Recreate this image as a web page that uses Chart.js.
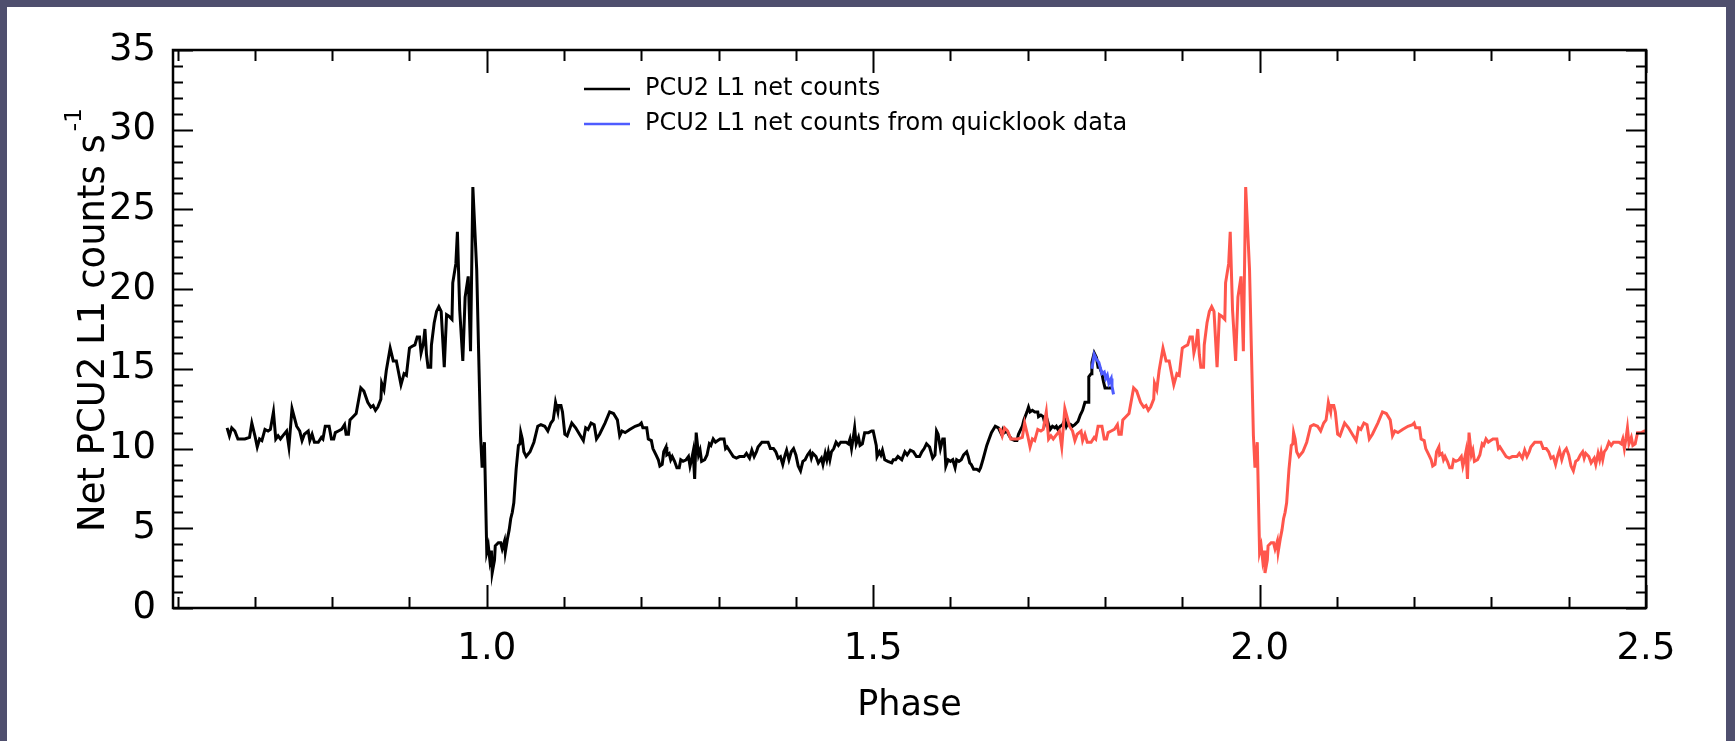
<!DOCTYPE html>
<html>
<head>
<meta charset="utf-8">
<script src="https://cdn.jsdelivr.net/npm/chart.js@4.4.1/dist/chart.umd.min.js"></script>
<style>
  html, body { margin: 0; padding: 0; }
  body { width: 1735px; height: 741px; background: #4f4f6e; position: relative; overflow: hidden; }
  #panel { position: absolute; left: 7px; top: 7px; width: 1719px; height: 734px; background: #fff; }
  canvas { display: block; }
</style>
</head>
<body>
<div id="panel"><canvas id="lc" width="1719" height="734"></canvas></div>
<script>
// light curve, PCU2 layer 1 net counts
const phase = [
  0.664, 0.667, 0.670, 0.674, 0.678, 0.687, 0.693, 0.696, 0.700, 0.703, 0.706, 0.709, 0.713, 0.717, 0.720,
  0.724, 0.727, 0.730, 0.733, 0.736, 0.741, 0.744, 0.748, 0.754, 0.758, 0.761, 0.764, 0.769, 0.771, 0.774,
  0.777, 0.782, 0.786, 0.788, 0.791, 0.796, 0.799, 0.802, 0.804, 0.808, 0.812, 0.816, 0.818, 0.821, 0.823,
  0.827, 0.831, 0.837, 0.841, 0.846, 0.850, 0.853, 0.856, 0.859, 0.863, 0.864, 0.867, 0.870, 0.875, 0.879,
  0.883, 0.889, 0.893, 0.896, 0.900, 0.903, 0.907, 0.910, 0.913, 0.915, 0.918, 0.920, 0.922, 0.924, 0.9275,
  0.9284, 0.932, 0.935, 0.938, 0.941, 0.945, 0.948, 0.951, 0.955, 0.956, 0.960, 0.962, 0.965, 0.969, 0.972,
  0.976, 0.979, 0.982, 0.987, 0.992, 0.994, 0.997, 1.000, 1.002, 1.004, 1.006, 1.007, 1.010, 1.011, 1.015,
  1.018, 1.020, 1.023, 1.024, 1.027, 1.029, 1.031, 1.033, 1.035, 1.038, 1.041, 1.043, 1.044, 1.046, 1.048,
  1.051, 1.056, 1.061, 1.066, 1.070, 1.075, 1.079, 1.083, 1.086, 1.088, 1.089, 1.092, 1.093, 1.096, 1.098,
  1.101, 1.104, 1.110, 1.115, 1.120, 1.125, 1.128, 1.131, 1.135, 1.139, 1.142, 1.146, 1.153, 1.159, 1.164,
  1.169, 1.172, 1.175, 1.179, 1.185, 1.192, 1.198, 1.200, 1.202, 1.207, 1.209, 1.213, 1.215, 1.219, 1.222,
  1.224, 1.227, 1.229, 1.232, 1.233, 1.236, 1.238, 1.240, 1.243, 1.246, 1.249, 1.251, 1.254, 1.258, 1.261,
  1.263, 1.265, 1.267, 1.269, 1.271, 1.274, 1.276, 1.278, 1.282, 1.285, 1.288, 1.290, 1.293, 1.296, 1.299,
  1.302, 1.307, 1.309, 1.311, 1.315, 1.319, 1.323, 1.327, 1.330, 1.333, 1.336, 1.340, 1.343, 1.346, 1.349,
  1.351, 1.356, 1.360, 1.364, 1.367, 1.371, 1.374, 1.377, 1.380, 1.383, 1.386, 1.388, 1.391, 1.394, 1.397,
  1.400, 1.403, 1.406, 1.409, 1.412, 1.415, 1.418, 1.420, 1.422, 1.426, 1.429, 1.433, 1.435, 1.438, 1.440,
  1.442, 1.444, 1.446, 1.449, 1.452, 1.455, 1.458, 1.461, 1.465, 1.468, 1.470, 1.472, 1.474, 1.476, 1.478,
  1.481, 1.483, 1.486, 1.489, 1.494, 1.498, 1.500, 1.504, 1.505, 1.508, 1.510, 1.512, 1.515, 1.519, 1.524,
  1.526, 1.529, 1.532, 1.537, 1.541, 1.544, 1.548, 1.552, 1.556, 1.560, 1.563, 1.566, 1.569, 1.573, 1.577,
  1.580, 1.582, 1.584, 1.587, 1.590, 1.592, 1.594, 1.597, 1.600, 1.603, 1.606, 1.608, 1.611, 1.614, 1.617,
  1.621, 1.623, 1.625, 1.627, 1.630, 1.634, 1.637, 1.639, 1.642, 1.647, 1.650, 1.653, 1.658, 1.662, 1.664,
  1.666, 1.668, 1.670, 1.673, 1.676, 1.679, 1.683, 1.686, 1.688, 1.691, 1.693, 1.695, 1.699, 1.701, 1.703,
  1.706, 1.709, 1.713, 1.714, 1.717, 1.720, 1.722, 1.724, 1.727, 1.729, 1.732, 1.735, 1.737, 1.739, 1.742,
  1.745, 1.748, 1.750, 1.752, 1.756, 1.758, 1.761, 1.765, 1.768, 1.771, 1.774, 1.778, 1.779, 1.782, 1.783,
  1.786, 1.789, 1.791, 1.793, 1.796, 1.798, 1.800, 1.802, 1.805, 1.809
];
const netCounts = [
  11.3, 10.8, 11.3, 11.1, 10.6, 10.6, 10.7, 11.6, 10.8, 10.1, 10.6, 10.5, 11.2, 11.1, 11.2,
  12.3, 10.6, 10.8, 10.6, 10.8, 11.1, 10.1, 12.5, 11.4, 11.1, 10.5, 10.9, 11.1, 10.5, 10.9,
  10.4, 10.4, 10.7, 10.6, 11.4, 11.4, 10.6, 10.6, 11.0, 11.1, 11.2, 11.5, 10.9, 10.9, 11.8,
  12.0, 12.2, 13.8, 13.6, 12.9, 12.6, 12.7, 12.4, 12.6, 13.1, 14.1, 13.7, 14.9, 16.3, 15.5,
  15.5, 14.0, 14.7, 14.6, 16.3, 16.4, 16.5, 17.0, 17.0, 16.0, 16.6, 17.5, 15.9, 15.1, 15.1,
  16.5, 17.9, 18.6, 18.9, 18.6, 15.1, 18.4, 18.3, 18.1, 20.4, 21.6, 23.6, 18.7, 15.5, 19.5,
  20.8, 16.1, 26.4, 21.2, 10.8, 8.8, 10.4, 3.5, 3.9, 3.0, 3.6, 2.2, 3.0, 3.9, 4.1,
  4.1, 3.7, 4.2, 3.5, 4.4, 4.9, 5.6, 6.0, 6.6, 8.7, 10.2, 10.3, 11.0, 10.6, 9.8,
  9.5, 9.8, 10.4, 11.4, 11.5, 11.4, 11.1, 11.6, 11.8, 12.5, 12.9, 12.3, 12.7, 12.7, 12.3,
  10.9, 10.8, 11.6, 11.3, 10.9, 10.5, 11.3, 11.2, 11.6, 11.5, 10.6, 10.9, 11.6, 12.3, 12.2,
  11.8, 10.8, 11.1, 11.0, 11.2, 11.4, 11.5, 11.6, 11.3, 11.3, 10.6, 10.5, 10.0, 9.6, 9.3,
  8.9, 9.0, 9.8, 10.1, 9.6, 9.7, 9.3, 9.5, 9.2, 8.8, 8.8, 9.3, 9.2, 9.3, 9.5,
  8.9, 9.3, 9.8, 8.1, 11.0, 9.6, 9.9, 9.2, 9.3, 9.6, 10.3, 10.2, 10.6, 10.4, 10.5,
  10.6, 10.6, 10.0, 10.1, 9.8, 9.5, 9.4, 9.5, 9.5, 9.5, 9.7, 9.4, 9.9, 9.5, 9.8,
  10.1, 10.4, 10.4, 10.4, 10.0, 10.0, 9.8, 9.4, 9.5, 9.0, 9.6, 9.9, 9.3, 9.8, 10.0,
  9.6, 8.9, 8.6, 9.2, 9.3, 9.6, 9.8, 9.4, 9.7, 9.5, 9.1, 9.4, 9.0, 9.7, 9.3,
  9.8, 9.3, 9.8, 10.0, 10.4, 10.2, 10.4, 10.4, 10.4, 10.3, 10.6, 10.0, 10.6, 11.3, 10.3,
  10.7, 10.2, 10.3, 11.0, 11.0, 11.1, 11.1, 10.2, 9.5, 9.8, 9.6, 9.9, 9.3, 9.2, 9.1,
  9.3, 9.3, 9.5, 9.3, 9.8, 9.6, 9.9, 9.8, 9.5, 9.5, 9.8, 10.0, 10.3, 10.1, 9.4,
  9.6, 11.1, 10.9, 10.0, 10.6, 10.6, 8.9, 9.3, 9.2, 9.3, 8.8, 9.3, 9.2, 9.3, 9.6,
  9.8, 9.5, 9.1, 9.0, 8.7, 8.7, 8.6, 8.8, 9.3, 10.2, 10.6, 11.0, 11.4, 11.3, 11.1,
  10.9, 11.2, 11.0, 11.1, 10.8, 10.6, 10.5, 10.5, 10.9, 11.2, 11.4, 11.8, 12.3, 12.6, 12.3,
  12.4, 12.3, 12.3, 12.0, 12.1, 12.0, 11.6, 12.0, 11.5, 11.2, 11.4, 11.3, 11.4, 11.2, 11.4,
  11.5, 11.8, 11.4, 11.6, 11.5, 11.4, 11.5, 11.7, 12.1, 12.4, 12.9, 12.9, 14.5, 14.7, 15.4,
  16.0, 15.7, 15.1, 15.1, 14.7, 14.2, 13.8, 13.8, 13.8, 13.8
];
// quicklook segment at the end of the observation
const qlPhase = [1.783, 1.786, 1.789, 1.792, 1.796, 1.799, 1.801, 1.803, 1.805, 1.808, 1.809, 1.811];
const qlCounts = [15.0, 15.9, 15.6, 15.4, 14.7, 14.8, 14.4, 14.6, 14.1, 14.4, 13.9, 13.4];

const xTickLabels = [1.0, 1.5, 2.0, 2.5];
const legendLabels = ["PCU2 L1 net counts", "PCU2 L1 net counts from quicklook data"];

const BLACK = "#000000";
const RED = "rgb(255, 86, 76)";
const BLUE = "rgb(78, 92, 255)";
const FONT = "'DejaVu Sans', sans-serif";

const pts = (xs, ys) => xs.map((x, i) => ({ x: x, y: ys[i] }));
// red curve: same light curve repeated one cycle later
const repeated = pts(phase, netCounts)
  .map(p => ({ x: p.x + 1, y: p.y }))
  .filter(p => p.x <= 2.5);

// inward ticks on all four sides + frame + legend + axis titles
const frame = {
  id: "frame",
  afterDatasetsDraw(chart) {
    const { ctx, chartArea: a, scales: { x, y } } = chart;
    ctx.save();
    ctx.strokeStyle = "#000";
    ctx.lineWidth = 2;
    ctx.beginPath();
    for (let k = 6; k <= 25; k++) {
      const v = k / 10;
      const px = Math.round(x.getPixelForValue(v)) + 0.5;
      const len = (k % 5 === 0) ? 23 : 11;
      ctx.moveTo(px, a.bottom); ctx.lineTo(px, a.bottom - len);
      ctx.moveTo(px, a.top); ctx.lineTo(px, a.top + len);
    }
    for (let v = 0; v <= 35; v++) {
      const py = Math.round(y.getPixelForValue(v)) + 0.5;
      const len = (v % 5 === 0) ? 20 : 10;
      ctx.moveTo(a.left, py); ctx.lineTo(a.left + len, py);
      ctx.moveTo(a.right, py); ctx.lineTo(a.right - len, py);
    }
    ctx.stroke();
    ctx.lineWidth = 2.5;
    ctx.strokeRect(a.left, a.top, a.right - a.left, a.bottom - a.top);

    // legend
    const rows = [[legendLabels[0], BLACK, 82], [legendLabels[1], BLUE, 117]];
    ctx.font = "24px " + FONT;
    ctx.textBaseline = "middle";
    ctx.textAlign = "left";
    rows.forEach(([txt, col, ry]) => {
      ctx.strokeStyle = col;
      ctx.lineWidth = 2.5;
      ctx.beginPath();
      ctx.moveTo(577, ry); ctx.lineTo(623, ry);
      ctx.stroke();
      ctx.fillStyle = "#000";
      ctx.fillText(txt, 638, ry);
    });

    // x title
    ctx.fillStyle = "#000";
    ctx.font = "35px " + FONT;
    ctx.textAlign = "center";
    ctx.textBaseline = "alphabetic";
    ctx.fillText("Phase", (a.left + a.right) / 2, 708);

    // y title with superscript
    ctx.translate(97, 525);
    ctx.rotate(-Math.PI / 2);
    ctx.textAlign = "left";
    ctx.font = "37px " + FONT;
    const main = "Net PCU2 L1 counts s";
    ctx.fillText(main, 0, 0);
    const w = ctx.measureText(main).width;
    ctx.font = "23px " + FONT;
    ctx.fillText("-1", w + 3, -23);
    ctx.restore();
  }
};

new Chart(document.getElementById("lc"), {
  type: "line",
  data: {
    datasets: [
      { label: legendLabels[0], data: pts(phase, netCounts), borderColor: BLACK, order: 3 },
      { label: "repeat", data: repeated, borderColor: RED, order: 2 },
      { label: legendLabels[1], data: pts(qlPhase, qlCounts), borderColor: BLUE, order: 1 }
    ]
  },
  options: {
    responsive: false,
    animation: false,
    parsing: false,
    layout: { padding: { left: 0, top: 43, right: 80, bottom: 0 } },
    elements: {
      line: { borderWidth: 3, tension: 0, fill: false },
      point: { radius: 0 }
    },
    plugins: { legend: { display: false }, tooltip: { enabled: false } },
    scales: {
      x: {
        type: "linear",
        min: 0.594,
        max: 2.5,
        grid: { display: false },
        border: { display: false },
        afterBuildTicks: s => { s.ticks = xTickLabels.map(v => ({ value: v })); },
        afterFit: s => { s.height = 133; },
        ticks: {
          color: "#000",
          padding: 11,
          maxRotation: 0,
          font: { family: FONT, size: 37 },
          callback: v => Number(v).toFixed(1)
        }
      },
      y: {
        min: 0,
        max: 35,
        grid: { display: false },
        border: { display: false },
        afterFit: s => { s.width = 166; },
        ticks: {
          stepSize: 5,
          color: "#000",
          padding: 9,
          font: { family: FONT, size: 37 }
        }
      }
    }
  },
  plugins: [frame]
});
</script>
</body>
</html>
